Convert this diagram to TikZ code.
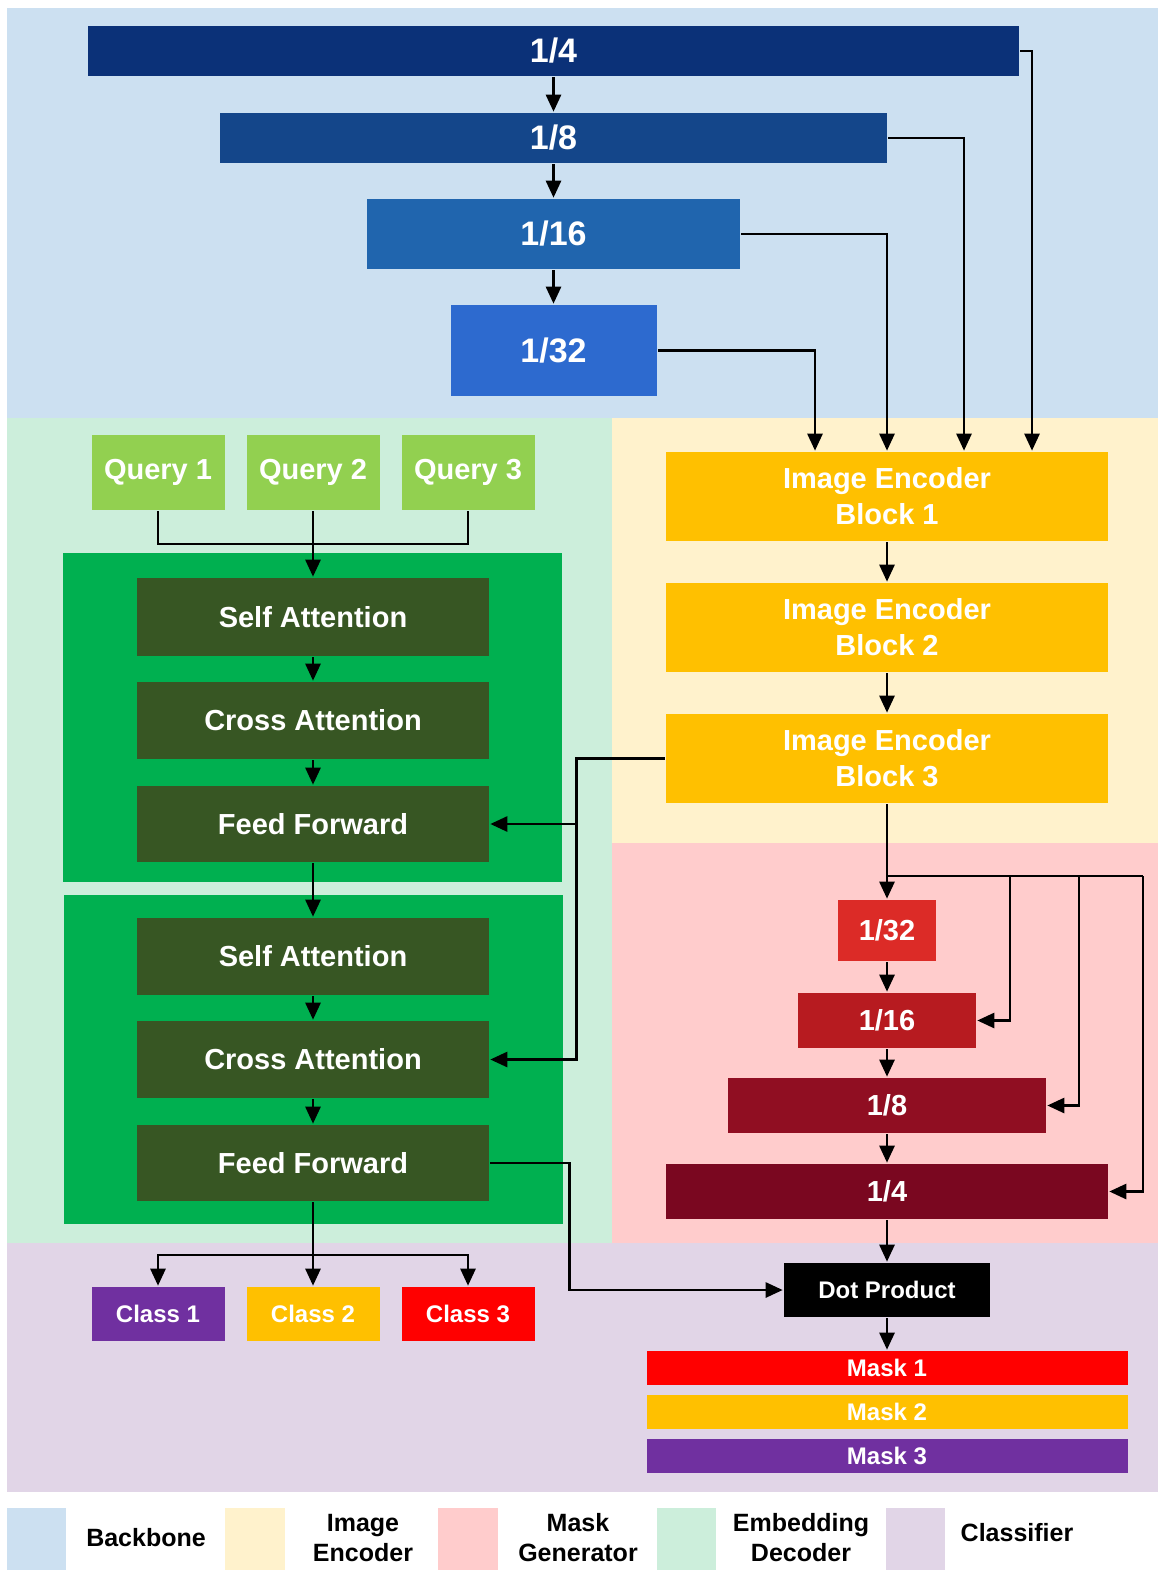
\documentclass[tikz,border=0pt]{standalone}
\usepackage{fontspec}
\setmainfont{Liberation Sans}
\usetikzlibrary{arrows.meta}

\definecolor{bgBack}{RGB}{204,224,241}
\definecolor{bgEnc}{RGB}{255,242,204}
\definecolor{bgMask}{RGB}{255,204,204}
\definecolor{bgEmb}{RGB}{204,238,219}
\definecolor{bgCls}{RGB}{225,213,231}
\definecolor{bbA}{RGB}{11,49,120}
\definecolor{bbB}{RGB}{20,70,138}
\definecolor{bbC}{RGB}{32,101,174}
\definecolor{bbD}{RGB}{45,106,207}
\definecolor{mgA}{RGB}{220,43,39}
\definecolor{mgB}{RGB}{183,27,32}
\definecolor{mgC}{RGB}{144,14,34}
\definecolor{mgD}{RGB}{122,7,32}
\definecolor{encY}{RGB}{255,192,0}
\definecolor{qGreen}{RGB}{146,208,80}
\definecolor{decG}{RGB}{0,176,80}
\definecolor{layG}{RGB}{55,86,35}
\definecolor{clsP}{RGB}{112,48,160}
\definecolor{clsR}{RGB}{255,0,0}

\begin{document}
\begin{tikzpicture}[x=1pt,y=-1pt,line width=2.6pt,
  box/.style={inner sep=0pt, text=white, align=center},
  fbig/.style={font=\bfseries\fontsize{34}{40}\selectfont},
  fmid/.style={font=\bfseries\fontsize{29}{36}\selectfont},
  fsml/.style={font=\bfseries\fontsize{24}{30}\selectfont},
  flgd/.style={font=\bfseries\fontsize{25}{30}\selectfont},
  arr/.style={-{Triangle[length=17pt,width=15pt]}}]

\useasboundingbox (0,0) rectangle (1158,1570);

\fill[bgBack] (7,8) rectangle (1158,418);
\fill[bgEmb] (7,418) rectangle (612,1243);
\fill[bgEnc] (612,418) rectangle (1158,843);
\fill[bgMask] (612,843) rectangle (1158,1243);
\fill[bgCls] (7,1243) rectangle (1158,1492);

% backbone
\node[box, fbig, fill=bbA, minimum width=931, minimum height=50] (b4) at (553.5,51) {1/4};
\node[box, fbig, fill=bbB, minimum width=667, minimum height=50] (b8) at (553.5,138) {1/8};
\node[box, fbig, fill=bbC, minimum width=373, minimum height=70] (b16) at (553.5,234) {1/16};
\node[box, fbig, fill=bbD, minimum width=206, minimum height=91] (b32) at (553.5,350.5) {1/32};

\draw[arr] (b4.south) -- (b8.north);
\draw[arr] (b8.south) -- (b16.north);
\draw[arr] (b16.south) -- (b32.north);

% image encoder
\node[box, fmid, fill=encY, minimum width=442, minimum height=89] (ie1) at (887,496.5) {Image Encoder\\Block 1};
\node[box, fmid, fill=encY, minimum width=442, minimum height=89] (ie2) at (887,627.5) {Image Encoder\\Block 2};
\node[box, fmid, fill=encY, minimum width=442, minimum height=89] (ie3) at (887,758.5) {Image Encoder\\Block 3};

\draw[arr] (b4.east) -| ([xshift=145]ie1.north);
\draw[arr] (b8.east) -| ([xshift=77]ie1.north);
\draw[arr] (b16.east) -| (ie1.north);
\draw[arr] (b32.east) -| ([xshift=-72]ie1.north);
\draw[arr] (ie1.south) -- (ie2.north);
\draw[arr] (ie2.south) -- (ie3.north);

% embedding decoder
\node[box, fmid, fill=qGreen, minimum width=133, minimum height=75] (q1) at (158,472.5) {Query 1};
\node[box, fmid, fill=qGreen, minimum width=133, minimum height=75] (q2) at (313,472.5) {Query 2};
\node[box, fmid, fill=qGreen, minimum width=133, minimum height=75] (q3) at (468,472.5) {Query 3};

\fill[decG] (63,553) rectangle (562,882);
\fill[decG] (64,895) rectangle (563,1224);

\node[box, fmid, fill=layG, minimum width=352, minimum height=78] (sa1) at (313,617) {Self Attention};
\node[box, fmid, fill=layG, minimum width=352, minimum height=77] (ca1) at (313,720.5) {Cross Attention};
\node[box, fmid, fill=layG, minimum width=352, minimum height=76] (ff1) at (313,824) {Feed Forward};
\node[box, fmid, fill=layG, minimum width=352, minimum height=77] (sa2) at (313,956.5) {Self Attention};
\node[box, fmid, fill=layG, minimum width=352, minimum height=77] (ca2) at (313,1059.5) {Cross Attention};
\node[box, fmid, fill=layG, minimum width=352, minimum height=76] (ff2) at (313,1163) {Feed Forward};

\coordinate (qj) at (313,544);
\draw (q1.south) |- (qj);
\draw (q3.south) |- (qj);
\draw[arr] (q2.south) -- (sa1.north);
\draw[arr] (sa1.south) -- (ca1.north);
\draw[arr] (ca1.south) -- (ff1.north);
\draw[arr] (ff1.south) -- (sa2.north);
\draw[arr] (sa2.south) -- (ca2.north);
\draw[arr] (ca2.south) -- (ff2.north);

\draw[arr] (ie3.west) -- ++(-88,0) |- (ff1.east);
\draw[arr] (ie3.west) -- ++(-88,0) |- (ca2.east);

% mask generator
\node[box, fmid, fill=mgA, minimum width=98, minimum height=61] (m32) at (887,930.5) {1/32};
\node[box, fmid, fill=mgB, minimum width=178, minimum height=55] (m16) at (887,1020.5) {1/16};
\node[box, fmid, fill=mgC, minimum width=318, minimum height=55] (m8) at (887,1105.5) {1/8};
\node[box, fmid, fill=mgD, minimum width=442, minimum height=55] (m4) at (887,1191.5) {1/4};

\coordinate (br) at (887,876);
\coordinate (k1) at (1010,876);
\coordinate (k2) at (1079,876);
\coordinate (k3) at (1143,876);
\draw[arr] (ie3.south) -- (m32.north);
\draw (br) -- (k3);
\draw[arr] (k1) |- (m16.east);
\draw[arr] (k2) |- (m8.east);
\draw[arr] (k3) |- (m4.east);
\draw[arr] (m32.south) -- (m16.north);
\draw[arr] (m16.south) -- (m8.north);
\draw[arr] (m8.south) -- (m4.north);

% classifier
\node[box, fsml, fill=black, minimum width=206, minimum height=54] (dot) at (887,1290) {Dot Product};
\node[box, fsml, fill=clsR, minimum width=481, minimum height=34] (mk1) at (887,1368) {Mask 1};
\node[box, fsml, fill=encY, minimum width=481, minimum height=34] (mk2) at (887,1412) {Mask 2};
\node[box, fsml, fill=clsP, minimum width=481, minimum height=34] (mk3) at (887,1456) {Mask 3};

\node[box, fsml, fill=clsP, minimum width=133, minimum height=54] (c1) at (158,1314) {Class 1};
\node[box, fsml, fill=encY, minimum width=133, minimum height=54] (c2) at (313,1314) {Class 2};
\node[box, fsml, fill=clsR, minimum width=133, minimum height=54] (c3) at (468,1314) {Class 3};

\draw[arr] (m4.south) -- (dot.north);
\draw[arr] (dot.south) -- (mk1.north);
\draw[arr] (ff2.east) -- ++(79,0) |- (dot.west);

\coordinate (cs) at (313,1255);
\draw (ff2.south) -- (cs);
\draw[arr] (cs) -| (c1.north);
\draw[arr] (cs) -- (c2.north);
\draw[arr] (cs) -| (c3.north);

% legend
\fill[bgBack] (7,1508) rectangle (66,1570);
\fill[bgEnc] (225,1508) rectangle (285,1570);
\fill[bgMask] (438,1508) rectangle (498,1570);
\fill[bgEmb] (657,1508) rectangle (716,1570);
\fill[bgCls] (886,1508) rectangle (945,1570);
\node[flgd, align=center] (lgBack) at (146,1538) {Backbone};
\node[flgd, align=center] (lgEnc) at (363,1538) {Image\\Encoder};
\node[flgd, align=center] (lgMask) at (578,1538) {Mask\\Generator};
\node[flgd, align=center] (lgEmb) at (801,1538) {Embedding\\Decoder};
\node[flgd, align=center] (lgCls) at (1017,1533) {Classifier};

\end{tikzpicture}
\end{document}
